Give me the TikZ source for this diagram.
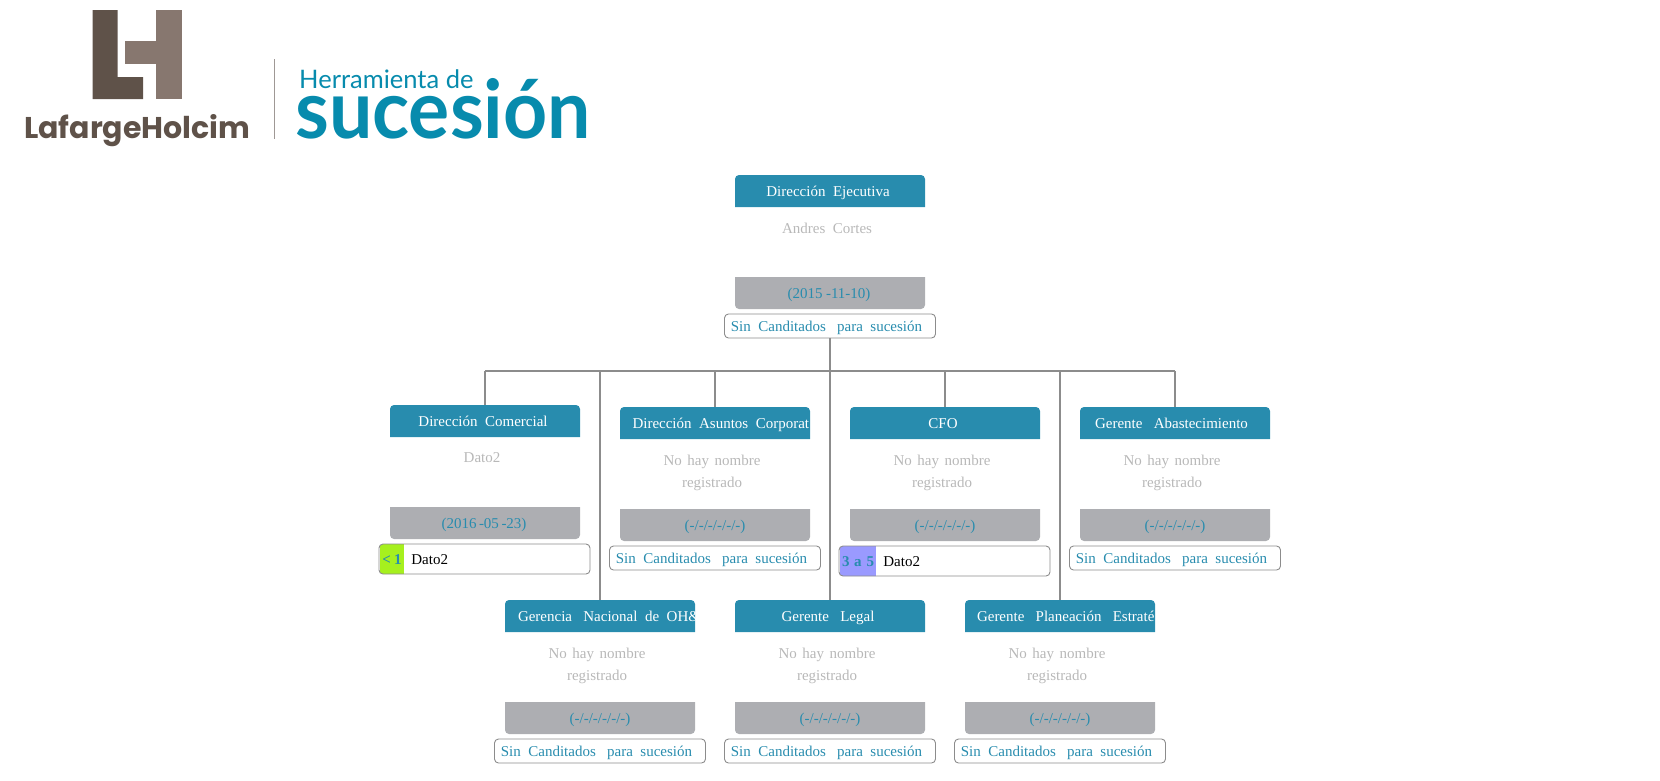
\documentclass[tikz,border=0pt]{standalone}
\usepackage{fontspec}
\usepackage{tikz}
\usetikzlibrary{positioning}
\setmainfont{Liberation Serif}
\newfontfamily\brandfont{Poppins}
\newfontfamily\toolfont{Lato}
\definecolor{headteal}{HTML}{288CAE}
\definecolor{dategray}{HTML}{ADAEB2}
\definecolor{namegray}{HTML}{B8B8B8}
\definecolor{linegray}{HTML}{8C8C8C}
\definecolor{logodark}{HTML}{5F5249}
\definecolor{logolight}{HTML}{87776F}
\definecolor{tooltext}{HTML}{078BAD}
\definecolor{lowswatch}{HTML}{A6F01E}
\definecolor{midswatch}{HTML}{9A9AFF}
\newcommand{\bodyfont}{\fontsize{15}{22}\selectfont\spaceskip=7.5pt\relax}
\newcommand{\nonamefont}{\fontsize{15}{22}\selectfont\spaceskip=5.5pt\relax}
\newcommand{\gap}{\hspace{11.25pt}}
% teal top and gray bottom of one card
\newcommand{\cardfill}[2]{
  \fill[headteal] (#1,#2+32) [rounded corners=4pt] -- (#1,#2) -- (#1+190,#2) [sharp corners] -- (#1+190,#2+32) -- cycle;
  \fill[dategray] (#1,#2+102) [rounded corners=4pt] -- (#1,#2+134) -- (#1+190,#2+134) [sharp corners] -- (#1+190,#2+102) -- cycle;
}
\tikzset{
  titlebox/.style={minimum width=190pt, minimum height=32pt, inner sep=0pt, text height=10pt, text depth=0pt, text=white, font=\bodyfont},
  titlemid/.style={titlebox, execute at end node={\hspace*{4pt}}},
  namelabel/.style={anchor=north, inner sep=0pt, align=center, text=namegray, font=\bodyfont},
  noname/.style={namelabel, font=\nonamefont},
  datelabel/.style={inner sep=0pt, text height=10pt, text depth=0pt, text=headteal, font=\bodyfont},
  candbox/.style={draw=linegray, line width=0.9pt, rounded corners=4pt, minimum width=211pt, minimum height=24pt, inner sep=0pt, text height=10pt, text depth=0pt, text=headteal, font=\bodyfont, execute at end node={\hspace*{7pt}}},
  swatchbox/.style={minimum height=31pt, inner sep=0pt, text height=10pt, text depth=0pt, text=headteal, font=\bodyfont\bfseries},
  candname/.style={inner sep=0pt, text height=10pt, text depth=0pt, text=black, font=\bodyfont},
  connector/.style={draw=linegray, line width=2pt},
}

\begin{document}
\begin{tikzpicture}[x=1pt, y=-1pt]
  \useasboundingbox (0,0) rectangle (1660,780);

  % ---------- Logo ----------
  \fill[logodark] (92.5,10) -- (117.5,10) -- (117.5,77) -- (143,77) -- (143,99) -- (92.5,99) -- cycle;
  \fill[logolight] (155.8,10) rectangle (181.5,99);
  \fill[logolight] (124.6,41) rectangle (155.8,64);
  \fill[black!30!logolight!60!white] (274,59) rectangle (274.8,139);
  \node[anchor=base west, inner sep=0pt, text=logodark, font=\brandfont\fontsize{30}{30}\selectfont\bfseries] at (24,138) (brand) {LafargeHolcim};
  \node[anchor=base west, inner sep=0pt, text=tooltext, font=\toolfont\fontsize{25.5}{25.5}\selectfont] at (299,88) (tool) {Herramienta de};
  \node[anchor=base west, inner sep=0pt, text=tooltext, font=\toolfont\fontsize{81}{81}\selectfont\bfseries] at (295,138) (sucesion) {\scalebox{0.95}[1]{sucesión}};

  % ---------- Top card ----------
  \cardfill{735}{175}
  \node[titlemid] at (830,191) (tEjecutiva) {Dirección Ejecutiva};
  \node[namelabel] at (827,222.5) (nEjecutiva) {Andres Cortes};
  \node[datelabel] at (829,293) (dEjecutiva) {(2015\hspace{3.5pt}-11-10)};
  \node[candbox] at (830,326) (cEjecutiva) {Sin Canditados\gap para sucesión};

  % ---------- Second row ----------
  \cardfill{390}{405}
  \node[titlemid] at (485,421) (tComercial) {Dirección Comercial};
  \node[namelabel] at (482,452.5) (nComercial) {Dato2};
  \node[datelabel] at (484,523) (dComercial) {(2016\,-05\,-23)};
  \begin{scope}
    \clip[rounded corners=4pt] (379,544) rectangle (590,574);
    \node[swatchbox, fill=lowswatch, minimum width=24pt] at (392,559) (sComercial) {<\hspace{3pt}1};
  \end{scope}
  \node[candbox, minimum height=30pt] at (484.5,559) (cComercial) {};
  \node[candname, right=7pt of sComercial] (pComercial) {Dato2};

  \cardfill{620}{407}
  \begin{scope}
    \clip (620,407) rectangle (810,439);
    \node[titlebox] at (715,423) (tAsuntos) {\makebox[190pt][l]{\hspace*{12.5pt}Dirección Asuntos Corporat}};
  \end{scope}
  \node[noname] at (712,454.5) (nAsuntos) {No hay nombre\\registrado};
  \node[datelabel] at (715,525) (dAsuntos) {(-/-/-/-/-/-)};
  \node[candbox] at (715,558) (cAsuntos) {Sin Canditados\gap para sucesión};

  \cardfill{850}{407}
  \node[titlemid] at (945,423) (tCFO) {CFO};
  \node[noname] at (942,454.5) (nCFO) {No hay nombre\\registrado};
  \node[datelabel] at (945,525) (dCFO) {(-/-/-/-/-/-)};
  \begin{scope}
    \clip[rounded corners=4pt] (839,546) rectangle (1050,576);
    \node[swatchbox, fill=midswatch, minimum width=36pt] at (858,561) (sCFO) {3\hspace{4.75pt}a\hspace{4.75pt}5};
  \end{scope}
  \node[candbox, minimum height=30pt] at (944.5,561) (cCFO) {};
  \node[candname, right=7pt of sCFO] (pCFO) {Dato2};

  \cardfill{1080}{407}
  \node[titlemid] at (1175,423) (tAbasto) {Gerente\gap Abastecimiento\hspace*{3pt}};
  \node[noname] at (1172,454.5) (nAbasto) {No hay nombre\\registrado};
  \node[datelabel] at (1175,525) (dAbasto) {(-/-/-/-/-/-)};
  \node[candbox] at (1175,558) (cAbasto) {Sin Canditados\gap para sucesión};

  % ---------- Third row ----------
  \cardfill{505}{600}
  \begin{scope}
    \clip (505,600) rectangle (695,632);
    \node[titlebox] at (600,616) (tGerencia) {\makebox[190pt][l]{\hspace*{13pt}Gerencia\gap Nacional de OH\&}};
  \end{scope}
  \node[noname] at (597,647.5) (nGerencia) {No hay nombre\\registrado};
  \node[datelabel] at (600,718) (dGerencia) {(-/-/-/-/-/-)};
  \node[candbox] at (600,751) (cGerencia) {Sin Canditados\gap para sucesión};

  \cardfill{735}{600}
  \node[titlemid] at (830,616) (tLegal) {Gerente\gap Legal};
  \node[noname] at (827,647.5) (nLegal) {No hay nombre\\registrado};
  \node[datelabel] at (830,718) (dLegal) {(-/-/-/-/-/-)};
  \node[candbox] at (830,751) (cLegal) {Sin Canditados\gap para sucesión};

  \cardfill{965}{600}
  \begin{scope}
    \clip (965,600) rectangle (1155,632);
    \node[titlebox] at (1060,616) (tPlaneacion) {\makebox[190pt][l]{\hspace*{12pt}Gerente\gap Planeación\gap Estraté}};
  \end{scope}
  \node[noname] at (1057,647.5) (nPlaneacion) {No hay nombre\\registrado};
  \node[datelabel] at (1060,718) (dPlaneacion) {(-/-/-/-/-/-)};
  \node[candbox] at (1060,751) (cPlaneacion) {Sin Canditados\gap para sucesión};

  % ---------- Lines ----------
  \coordinate (busComercial) at (485,371);
  \coordinate (busGerencia) at (600,371);
  \coordinate (busAsuntos) at (715,371);
  \coordinate (busLegal) at (830,371);
  \coordinate (busCFO) at (945,371);
  \coordinate (busPlaneacion) at (1060,371);
  \coordinate (busAbasto) at (1175,371);
  \draw[connector] (busComercial) -- (busAbasto);
  \draw[connector] (cEjecutiva.south) -- (busLegal);
  \draw[connector] (busComercial) -- (tComercial.north);
  \draw[connector] (busAsuntos) -- (tAsuntos.north);
  \draw[connector] (busCFO) -- (tCFO.north);
  \draw[connector] (busAbasto) -- (tAbasto.north);
  \draw[connector] (busGerencia) -- (tGerencia.north);
  \draw[connector] (busLegal) -- (tLegal.north);
  \draw[connector] (busPlaneacion) -- (tPlaneacion.north);
\end{tikzpicture}
\end{document}
